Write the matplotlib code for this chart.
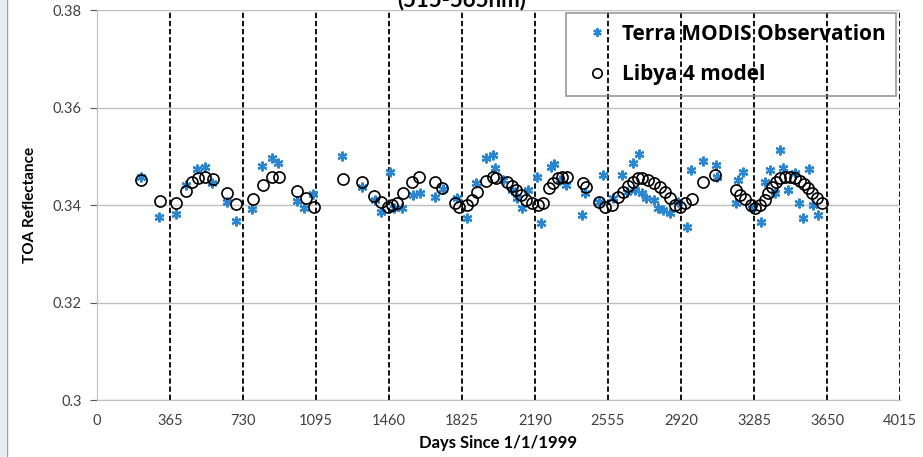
"""
Terra MODIS TOA reflectance over Libya 4 compared with the site model.
"""

import matplotlib
matplotlib.use("Agg")
import matplotlib.pyplot as plt
from matplotlib.patches import Rectangle

plt.rcParams["font.family"] = ["Lato", "DejaVu Sans"]

# Terra MODIS observations (day since 1/1/1999, reflectance)
obs_days = [220, 310, 395, 445, 500, 540, 575, 650, 695, 775, 825, 875, 905,
            1000, 1035, 1080, 1225, 1325, 1390, 1420, 1465, 1485, 1525, 1580,
            1615, 1690, 1730, 1800, 1850, 1895, 1945, 1980, 1990, 2030, 2075,
            2100, 2125, 2155, 2200, 2220, 2270, 2285, 2315, 2345, 2425, 2440,
            2510, 2530, 2580, 2625, 2650, 2680, 2710, 2690, 2725, 2745, 2785,
            2805, 2830, 2865, 2905, 2950, 2970, 3030, 3095, 3100, 3195, 3205,
            3230, 3275, 3320, 3340, 3365, 3390, 3415, 3430, 3455, 3490, 3510,
            3530, 3560, 3580, 3605]
obs_refl = [0.3457, 0.3375, 0.3382, 0.3441, 0.3474, 0.3478, 0.3445, 0.3406,
            0.3367, 0.3392, 0.3480, 0.3496, 0.3486, 0.3408, 0.3394, 0.3423,
            0.3501, 0.3437, 0.3410, 0.3386, 0.3468, 0.3394, 0.3394, 0.3421,
            0.3425, 0.3416, 0.3433, 0.3414, 0.3373, 0.3445, 0.3496, 0.3503,
            0.3476, 0.3451, 0.3431, 0.3414, 0.3394, 0.3431, 0.3457, 0.3363,
            0.3478, 0.3484, 0.3451, 0.3441, 0.3380, 0.3425, 0.3406, 0.3462,
            0.3414, 0.3462, 0.3427, 0.3486, 0.3505, 0.3431, 0.3425, 0.3414,
            0.3410, 0.3394, 0.3390, 0.3384, 0.3406, 0.3355, 0.3472, 0.3490,
            0.3482, 0.3457, 0.3404, 0.3451, 0.3468, 0.3394, 0.3365, 0.3447,
            0.3472, 0.3425, 0.3513, 0.3476, 0.3431, 0.3466, 0.3404, 0.3373,
            0.3474, 0.3400, 0.3380]

# Libya 4 model predictions
model_days = [220, 315, 395, 445, 475, 505, 540, 580, 650, 695, 780, 830, 875,
              910, 1000, 1045, 1085, 1230, 1325, 1385, 1420, 1455, 1475, 1500,
              1530, 1575, 1610, 1690, 1725, 1790, 1810, 1850, 1875, 1900, 1945,
              1980, 1995, 2050, 2075, 2095, 2120, 2145, 2175, 2205, 2230, 2260,
              2280, 2305, 2325, 2350, 2430, 2445, 2510, 2540, 2575, 2605, 2630,
              2655, 2680, 2705, 2725, 2755, 2785, 2815, 2840, 2865, 2890, 2915,
              2940, 2975, 3030, 3090, 3195, 3215, 3240, 3270, 3290, 3315, 3340,
              3355, 3375, 3395, 3415, 3440, 3465, 3490, 3515, 3535, 3555, 3575,
              3600, 3625]
model_refl = [0.3451, 0.3408, 0.3404, 0.3429, 0.3447, 0.3455, 0.3457, 0.3453,
              0.3425, 0.3402, 0.3412, 0.3441, 0.3457, 0.3457, 0.3429, 0.3414,
              0.3396, 0.3453, 0.3447, 0.3418, 0.3406, 0.3396, 0.3400, 0.3404,
              0.3425, 0.3447, 0.3457, 0.3447, 0.3435, 0.3404, 0.3396, 0.3400,
              0.3410, 0.3427, 0.3449, 0.3457, 0.3455, 0.3447, 0.3439, 0.3431,
              0.3421, 0.3410, 0.3404, 0.3400, 0.3404, 0.3435, 0.3445, 0.3455,
              0.3457, 0.3457, 0.3445, 0.3437, 0.3406, 0.3396, 0.3400, 0.3416,
              0.3427, 0.3439, 0.3447, 0.3455, 0.3455, 0.3451, 0.3445, 0.3437,
              0.3427, 0.3414, 0.3400, 0.3396, 0.3404, 0.3412, 0.3447, 0.3462,
              0.3431, 0.3421, 0.3412, 0.3400, 0.3394, 0.3400, 0.3410, 0.3425,
              0.3437, 0.3447, 0.3455, 0.3457, 0.3457, 0.3455, 0.3449, 0.3443,
              0.3435, 0.3425, 0.3414, 0.3404]

x_ticks = [0, 365, 730, 1095, 1460, 1825, 2190, 2555, 2920, 3285, 3650, 4015]
y_ticks = [0.30, 0.32, 0.34, 0.36, 0.38]
y_tick_labels = ["0.3", "0.32", "0.34", "0.36", "0.38"]

fig = plt.figure(figsize=(9.23, 4.57), dpi=100)
ax = fig.add_axes([0.1051, 0.1247, 0.8700, 0.8534])

# slide border strip on the left edge
fig.patches.append(Rectangle((0, 0), 6 / 923, 1, transform=fig.transFigure,
                             facecolor="#e8ecf2", edgecolor="none"))
fig.lines.append(plt.Line2D([6.5 / 923, 6.5 / 923], [0, 1], transform=fig.transFigure,
                            color="#9aa0a8", lw=1))

ax.set_xlim(0, 4015)
ax.set_ylim(0.30, 0.38)

for y in y_ticks:
    ax.axhline(y, color="#bfbfbf", lw=1, zorder=0)
for x in x_ticks[1:]:
    ax.axvline(x, color="black", lw=1.3, ls=(0, (3, 1.5)), zorder=1)

ax.plot(obs_days, obs_refl, ls="none", marker=(6, 2, 0), ms=7, mew=1.6,
        color="#2a86d1", label="Terra MODIS Observation", zorder=3)
ax.plot(model_days, model_refl, ls="none", marker="o", ms=8, mfc="none",
        mec="black", mew=1.2, label="Libya 4 model", zorder=4)

ax.set_xticks(x_ticks)
ax.set_yticks(y_ticks)
ax.set_yticklabels(y_tick_labels)
ax.tick_params(axis="both", colors="#595959", labelcolor="#404040", labelsize=10.5)
ax.tick_params(axis="x", length=0, pad=10)
ax.tick_params(axis="y", length=5, pad=6)

for side in ["top", "right"]:
    ax.spines[side].set_visible(False)
for side in ["left", "bottom"]:
    ax.spines[side].set_color("#bfbfbf")

ax.set_xlabel("Days Since 1/1/1999", fontsize=12, fontweight="bold", labelpad=5)
ax.set_ylabel("TOA Reflectance", fontsize=11, fontweight="bold", labelpad=11)

leg = ax.legend(loc="upper right", bbox_to_anchor=(0.998, 0.997),
                prop={"family": ["Open Sans", "DejaVu Sans"], "weight": "bold", "size": 15},
                handletextpad=0.2, handlelength=2.0, labelspacing=0.95,
                borderpad=0.5, borderaxespad=0.1, markerscale=0.85,
                fancybox=False, facecolor="none", edgecolor="#7f7f7f")
leg.get_frame().set_linewidth(1.2)

# title is cut off by the top edge of the picture, as in the source slide
fig.text(0.5, 1 - 10 / 457, "(515-565nm)", ha="center", va="bottom",
         fontsize=16, fontweight="bold")

fig.savefig("out.png", dpi=100)
